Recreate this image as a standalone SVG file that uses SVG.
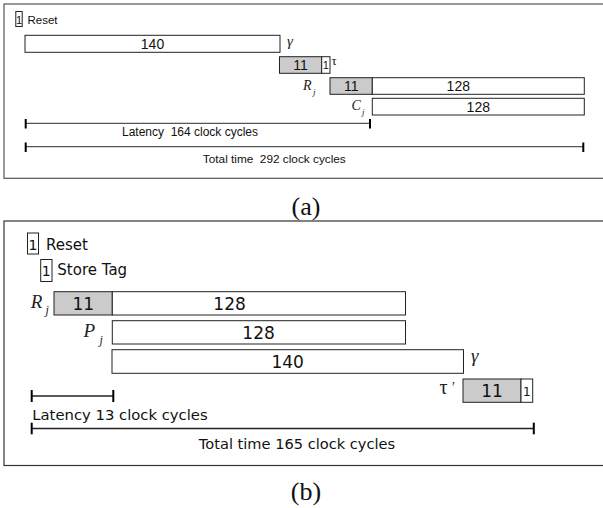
<svg xmlns="http://www.w3.org/2000/svg" width="603" height="508" viewBox="0 0 603 508">
  <style>
    .frame { fill: none; stroke: #555; stroke-width: 1.2; }
    .bar { fill: #fff; stroke: #222; stroke-width: 1; }
    .busy { fill: #cbcbcb; stroke: #222; stroke-width: 1; }
    .ruleA { stroke: #555; stroke-width: 1.2; }
    .ruleB { stroke: #222; stroke-width: 1.5; }
    .tick { stroke: #000; stroke-width: 2; }
    .sa { font-family: "Liberation Sans", Arial, sans-serif; fill: #111; }
    .sb { font-family: "DejaVu Sans", sans-serif; fill: #111; }
    .math { font-family: "Liberation Serif", "Times New Roman", serif; font-style: italic; fill: #222; }
    .greek { font-family: "Liberation Serif", "Times New Roman", serif; font-style: normal; fill: #222; }
    .cap { font-family: "Liberation Serif", "Times New Roman", serif; fill: #111; font-size: 26px; }
  </style>

  <!-- (a) schedule -->
  <g id="panel-a">
    <rect class="frame" x="4" y="4" width="620" height="174.3"/>

    <g id="a-reset">
      <rect class="bar" x="15.8" y="11.5" width="6.4" height="15"/>
      <text class="sa" x="19" y="23.5" font-size="11" text-anchor="middle">1</text>
      <text class="sa" x="27.5" y="23.5" font-size="11.5">Reset</text>
    </g>

    <g id="a-gamma">
      <rect class="bar" x="25" y="35.3" width="255" height="17"/>
      <text class="sa" x="152.5" y="49" font-size="14" text-anchor="middle">140</text>
      <text class="math" x="287" y="46" font-size="15">γ</text>
    </g>

    <g id="a-tau">
      <rect class="busy" x="279.5" y="56.7" width="42.2" height="16.6"/>
      <text class="sa" x="300.6" y="70" font-size="14" text-anchor="middle">11</text>
      <rect class="bar" x="321.7" y="56.7" width="8.3" height="16.6"/>
      <text class="sa" x="325.9" y="69" font-size="11" text-anchor="middle">1</text>
      <text class="greek" x="331.5" y="65" font-size="13">τ</text>
    </g>

    <g id="a-rj">
      <text class="math" x="303" y="89.5" font-size="14">R</text>
      <text class="math" x="313" y="95" font-size="9">j</text>
      <rect class="busy" x="330" y="77.7" width="42.3" height="16.6"/>
      <text class="sa" x="351.2" y="91" font-size="14" text-anchor="middle">11</text>
      <rect class="bar" x="372.3" y="77.7" width="212" height="16.6"/>
      <text class="sa" x="458.3" y="91" font-size="14" text-anchor="middle">128</text>
    </g>

    <g id="a-cj">
      <text class="math" x="351.5" y="109.5" font-size="14">C</text>
      <text class="math" x="362" y="115" font-size="9">j</text>
      <rect class="bar" x="372.3" y="98.3" width="212" height="16.7"/>
      <text class="sa" x="478.3" y="111.7" font-size="14" text-anchor="middle">128</text>
    </g>

    <g id="a-rulers">
      <line class="ruleA" x1="25.7" y1="123.3" x2="370" y2="123.3"/>
      <line class="tick" x1="25.7" y1="119" x2="25.7" y2="128.5"/>
      <line class="tick" x1="370" y1="119" x2="370" y2="128.5"/>
      <text class="sa" x="190" y="135.7" font-size="12" text-anchor="middle">Latency&#160; 164 clock cycles</text>
      <line class="ruleA" x1="25.7" y1="146.7" x2="583.3" y2="146.7"/>
      <line class="tick" x1="25.7" y1="142.5" x2="25.7" y2="152"/>
      <line class="tick" x1="583.3" y1="142.5" x2="583.3" y2="152"/>
      <text class="sa" x="274.3" y="163.3" font-size="11.8" text-anchor="middle">Total time&#160; 292 clock cycles</text>
    </g>
  </g>
  <text class="cap" x="306" y="215" text-anchor="middle">(a)</text>

  <!-- (b) schedule -->
  <g id="panel-b">
    <rect class="frame" x="4" y="221" width="620" height="244.5" style="stroke:#333"/>

    <g id="b-reset">
      <rect class="bar" x="27.5" y="233" width="11" height="21"/>
      <text class="sb" x="33" y="249.5" font-size="14" text-anchor="middle">1</text>
      <text class="sb" x="46" y="250" font-size="15">Reset</text>
    </g>

    <g id="b-store">
      <rect class="bar" x="40.7" y="259.5" width="11.3" height="22"/>
      <text class="sb" x="46.3" y="276" font-size="14" text-anchor="middle">1</text>
      <text class="sb" x="57.3" y="275" font-size="15">Store Tag</text>
    </g>

    <g id="b-rj">
      <text class="math" x="30.7" y="308" font-size="19">R</text>
      <text class="math" x="45.5" y="314" font-size="12">j</text>
      <rect class="busy" x="54" y="291.7" width="58.3" height="23.3"/>
      <text class="sb" x="83.2" y="310" font-size="17" text-anchor="middle">11</text>
      <rect class="bar" x="112.3" y="291.7" width="293.2" height="23.3"/>
      <text class="sb" x="229.6" y="310" font-size="17" text-anchor="middle">128</text>
    </g>

    <g id="b-pj">
      <text class="math" x="83.5" y="337" font-size="19">P</text>
      <text class="math" x="99.5" y="344" font-size="12">j</text>
      <rect class="bar" x="112.3" y="320.7" width="293.2" height="23.3"/>
      <text class="sb" x="258.6" y="339" font-size="17" text-anchor="middle">128</text>
    </g>

    <g id="b-gamma">
      <rect class="bar" x="112" y="349.7" width="351.5" height="23.6"/>
      <text class="sb" x="287.7" y="368" font-size="17" text-anchor="middle">140</text>
      <text class="math" x="471" y="362" font-size="19">γ</text>
    </g>

    <g id="b-tau">
      <text class="greek" x="439.5" y="394" font-size="20">τ</text>
      <text class="greek" x="452" y="392" font-size="14">′</text>
      <rect class="busy" x="463" y="379" width="58" height="23.3"/>
      <text class="sb" x="492" y="397" font-size="17" text-anchor="middle">11</text>
      <rect class="bar" x="521" y="379" width="11.7" height="23.3"/>
      <text class="sb" x="526.8" y="396" font-size="12" text-anchor="middle">1</text>
    </g>

    <g id="b-rulers">
      <line class="ruleB" x1="31.7" y1="396" x2="113.3" y2="396"/>
      <line class="tick" x1="31.7" y1="390" x2="31.7" y2="402"/>
      <line class="tick" x1="113.3" y1="390" x2="113.3" y2="402"/>
      <text class="sb" x="32.3" y="420" font-size="14.8">Latency 13 clock cycles</text>
      <line class="ruleB" x1="31.7" y1="428.5" x2="533.8" y2="428.5"/>
      <line class="tick" x1="31.7" y1="422.7" x2="31.7" y2="434.3"/>
      <line class="tick" x1="533.8" y1="422.7" x2="533.8" y2="434.3"/>
      <text class="sb" x="297" y="448.6" font-size="14.6" text-anchor="middle">Total time 165 clock cycles</text>
    </g>
  </g>
  <text class="cap" x="306" y="500" text-anchor="middle">(b)</text>
</svg>
